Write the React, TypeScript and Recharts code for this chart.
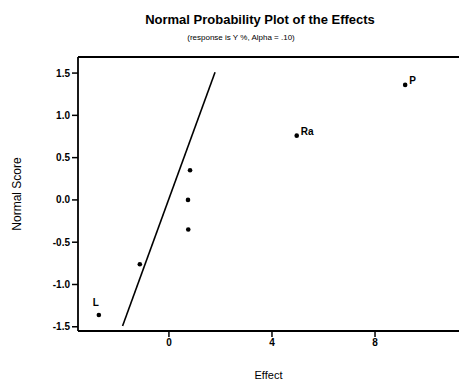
import { ComposedChart, Scatter, XAxis, YAxis, Label, ReferenceLine } from 'recharts';

// effects (x) and normal scores (y)
const effectNames = ['L', '', '', '', '', 'Ra', 'P'];
const effectValues = [-2.72, -1.13, 0.75, 0.74, 0.82, 4.96, 9.17];
const normalScores = [-1.36, -0.76, -0.35, 0.0, 0.35, 0.76, 1.36];

// reference line through the non-significant effects
const fitEffect = [-1.8, 1.79];
const fitScore = [-1.49, 1.51];

const xTicks = [0, 4, 8];
const yTicks = [-1.5, -1.0, -0.5, 0.0, 0.5, 1.0, 1.5];
const yMax = 1.69;

const points = effectValues.map((x, i) => ({ x, y: normalScores[i], label: effectNames[i] }));
const fitLine = fitEffect.map((x, i) => ({ x, y: fitScore[i] }));

const font = '"Liberation Sans", Arial, sans-serif';

const labelOffset: Record<string, [number, number]> = {
  P: [4, -1],
  Ra: [4, -1],
  L: [-6, -9],
};

const PointShape = (props: any) => {
  const { cx, cy, payload } = props;
  const off = labelOffset[payload.label] || [0, 0];
  return (
    <g>
      <circle cx={cx} cy={cy} r={2.3} fill="#000" />
      {payload.label ? (
        <text x={cx + off[0]} y={cy + off[1]} fontSize={10} fontWeight="bold" fontFamily={font} fill="#000">
          {payload.label}
        </text>
      ) : null}
    </g>
  );
};

export default function App() {
  return (
    <div style={{ position: 'absolute', left: 0, top: 0, width: 459, height: 381, background: '#fff' }}>
      <div style={{ position: 'absolute', left: 0, top: 12, width: 520, textAlign: 'center', fontFamily: font, fontSize: 13, fontWeight: 'bold', color: '#000' }}>
        Normal Probability Plot of the Effects
      </div>
      <div style={{ position: 'absolute', left: 0, top: 33, width: 482, textAlign: 'center', fontFamily: font, fontSize: 8, color: '#000' }}>
        (response is Y %, Alpha = .10)
      </div>
      <ComposedChart width={459} height={381} margin={{ top: 57, right: 0, bottom: 0, left: 0 }}>
        <XAxis
          type="number"
          dataKey="x"
          domain={[-3.53, 11.26]}
          ticks={xTicks}
          allowDataOverflow
          height={50}
          tickSize={6}
          tickLine={{ stroke: '#000', strokeWidth: 1.5 }}
          axisLine={{ stroke: '#000', strokeWidth: 1.8 }}
          tick={{ fill: '#000', fontSize: 10, fontWeight: 'bold', fontFamily: font }}
        >
          <Label value="Effect" position="insideBottom" offset={2} fill="#000" fontSize={11} fontFamily={font} />
        </XAxis>
        <YAxis
          type="number"
          dataKey="y"
          domain={[-1.55, yMax]}
          ticks={yTicks}
          allowDataOverflow
          width={78}
          tickSize={6}
          tickFormatter={(v: number) => v.toFixed(1)}
          tickLine={{ stroke: '#000', strokeWidth: 1.5 }}
          axisLine={{ stroke: '#000', strokeWidth: 1.8 }}
          tick={{ fill: '#000', fontSize: 10, fontWeight: 'bold', fontFamily: font }}
        >
          <Label value="Normal Score" angle={-90} position="insideLeft" offset={17} fill="#000" fontSize={12} fontFamily={font} style={{ textAnchor: 'middle' }} />
        </YAxis>
        <ReferenceLine y={yMax} stroke="#000" strokeWidth={2} ifOverflow="visible" />
        <Scatter
          data={fitLine}
          line={{ stroke: '#000', strokeWidth: 1.6 }}
          shape={() => <g />}
          isAnimationActive={false}
        />
        <Scatter data={points} shape={PointShape} isAnimationActive={false} />
      </ComposedChart>
    </div>
  );
}
